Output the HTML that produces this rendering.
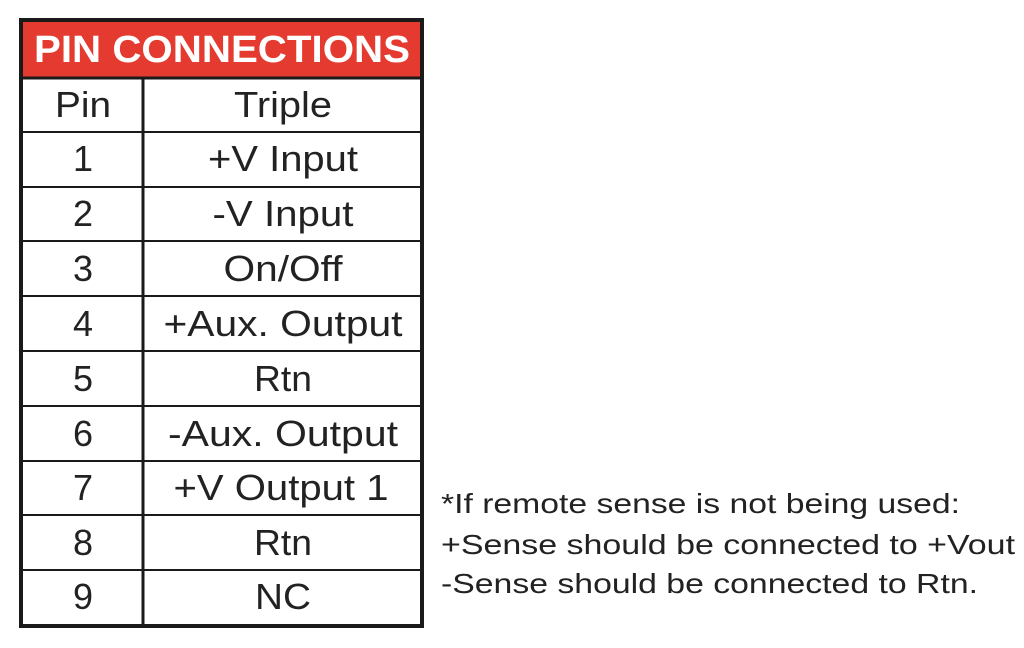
<!DOCTYPE html>
<html><head><meta charset="utf-8"><style>
html,body{margin:0;padding:0;background:#fff;width:1024px;height:648px;overflow:hidden}
svg{display:block}
text{font-family:"Liberation Sans",Arial,sans-serif;fill:#222}
</style></head><body>
<svg width="1024" height="648" viewBox="0 0 1024 648" xmlns="http://www.w3.org/2000/svg">
<rect x="21" y="21" width="401" height="56" fill="#e43a2f"/>
<text x="222" y="62" text-anchor="middle" font-size="38" font-weight="bold" style="fill:#fff" textLength="376" lengthAdjust="spacingAndGlyphs">PIN CONNECTIONS</text>
<g stroke="#1a1a1a" fill="none">
<rect x="21" y="20" width="401" height="606" stroke-width="4"/>
<line x1="21" y1="78" x2="422" y2="78" stroke-width="3"/>
<line x1="143" y1="78" x2="143" y2="626" stroke-width="3"/>
<g stroke-width="2">
<line x1="21" y1="132" x2="422" y2="132"/>
<line x1="21" y1="187" x2="422" y2="187"/>
<line x1="21" y1="241" x2="422" y2="241"/>
<line x1="21" y1="296" x2="422" y2="296"/>
<line x1="21" y1="351" x2="422" y2="351"/>
<line x1="21" y1="406" x2="422" y2="406"/>
<line x1="21" y1="461" x2="422" y2="461"/>
<line x1="21" y1="515" x2="422" y2="515"/>
<line x1="21" y1="570" x2="422" y2="570"/>
</g></g>
<g font-size="36" text-anchor="middle">
<text x="83" y="117" textLength="56" lengthAdjust="spacingAndGlyphs">Pin</text><text x="283" y="117" textLength="98" lengthAdjust="spacingAndGlyphs">Triple</text>
<text x="83" y="171">1</text><text x="283" y="171" textLength="150" lengthAdjust="spacingAndGlyphs">+V Input</text>
<text x="83" y="226">2</text><text x="283" y="226" textLength="141" lengthAdjust="spacingAndGlyphs">-V Input</text>
<text x="83" y="281">3</text><text x="283" y="281" textLength="119" lengthAdjust="spacingAndGlyphs">On/Off</text>
<text x="83" y="336">4</text><text x="283" y="336" textLength="239" lengthAdjust="spacingAndGlyphs">+Aux. Output</text>
<text x="83" y="391">5</text><text x="283" y="391" textLength="58" lengthAdjust="spacingAndGlyphs">Rtn</text>
<text x="83" y="446">6</text><text x="283" y="446" textLength="230" lengthAdjust="spacingAndGlyphs">-Aux. Output</text>
<text x="83" y="500">7</text><text x="281" y="500" textLength="215" lengthAdjust="spacingAndGlyphs">+V Output 1</text>
<text x="83" y="555">8</text><text x="283" y="555" textLength="58" lengthAdjust="spacingAndGlyphs">Rtn</text>
<text x="83" y="609">9</text><text x="283" y="609" textLength="56" lengthAdjust="spacingAndGlyphs">NC</text>
</g>
<g font-size="28">
<text x="441" y="513" textLength="519" lengthAdjust="spacingAndGlyphs">*If remote sense is not being used:</text>
<text x="441" y="554" textLength="574" lengthAdjust="spacingAndGlyphs">+Sense should be connected to +Vout</text>
<text x="441" y="593" textLength="537" lengthAdjust="spacingAndGlyphs">-Sense should be connected to Rtn.</text>
</g>
</svg>
</body></html>
